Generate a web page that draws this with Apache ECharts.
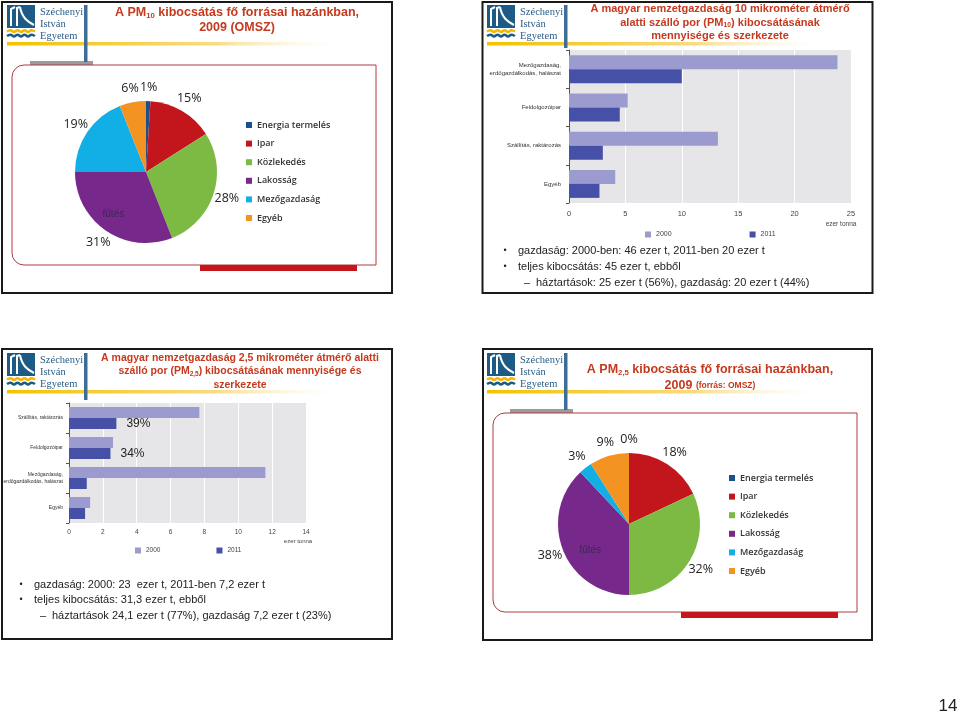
<!DOCTYPE html>
<html><head><meta charset="utf-8">
<script src="https://cdn.jsdelivr.net/npm/echarts@6/dist/echarts.min.js"></script>
<style>html,body{margin:0;padding:0;background:#fff}#c{width:960px;height:713px}</style>
</head><body><div id="c"></div>
<script>
// ---------- data ----------
const sourceNames = ['Energia termelés','Ipar','Közlekedés','Lakosság','Mezőgazdaság','Egyéb'];
const pm10Shares = [1,15,28,31,19,6];
const pm25Shares = [0,18,32,38,3,9];
const sourceNotes = ['','','','fűtés','',''];

const pm10Cats = ['Mezőgazdaság,\nerdőgazdálkodás, halászat','Feldolgozóipar','Szállítás, raktározás','Egyéb'];
const pm10Y2000 = [23.8,5.2,13.2,4.1];
const pm10Y2011 = [10.0,4.5,3.0,2.7];

const pm25Cats = ['Szállítás, raktározás','Feldolgozóipar','Mezőgazdaság,\nerdőgazdálkodás, halászat','Egyéb'];
const pm25Y2000 = [7.7,2.6,11.6,1.25];
const pm25Y2011 = [2.8,2.45,1.05,0.95];
const pm25Notes = ['39%','34%','',''];

const yearNames = ['2000','2011'];
const pm10Axis = {min:0,max:25,interval:5};
const pm25Axis = {min:0,max:14,interval:2};
const unitLabel = 'ezer tonna';

const pm10Bullets = ['gazdaság: 2000-ben: 46 ezer t, 2011-ben 20 ezer t','teljes kibocsátás: 45 ezer t, ebből'];
const pm10Sub = 'háztartások: 25 ezer t (56%), gazdaság: 20 ezer t (44%)';
const pm25Bullets = ['gazdaság: 2000: 23  ezer t, 2011-ben 7,2 ezer t','teljes kibocsátás: 31,3 ezer t, ebből'];
const pm25Sub = 'háztartások 24,1 ezer t (77%), gazdaság 7,2 ezer t (23%)';
const pageNumber = '14';

// ---------- styles ----------
const sectorColors = ['#1F4E8C','#C3161C','#7DBA43','#76298A','#12AEE6','#F39422'];
const c2000 = '#9B9BD0', c2011 = '#4650A6';
const red = '#C53A1E';
const SANS = '"Liberation Sans", Arial, sans-serif';
const NARROW = '"Liberation Sans Narrow", "Liberation Sans", Arial, sans-serif';
const HUMAN = '"Open Sans", "Noto Sans", sans-serif';

const chart = echarts.init(document.getElementById('c'));

function header(ox, oy, barLen, withGray) {
  const g = [];
  g.push({type:'rect', shape:{x:ox+7,y:oy+5,width:28,height:23}, style:{fill:'#1D5B86'}});
  g.push({type:'polyline', shape:{points:[[ox+11,oy+26],[ox+11,oy+9],[ox+15,oy+7]]}, style:{stroke:'#fff',lineWidth:2,fill:null}});
  g.push({type:'polyline', shape:{points:[[ox+17,oy+26],[ox+17,oy+8],[ox+20,oy+7]]}, style:{stroke:'#fff',lineWidth:2,fill:null}});
  g.push({type:'bezierCurve', shape:{x1:ox+20,y1:oy+7,cpx1:ox+22,cpy1:oy+18,cpx2:ox+28,cpy2:oy+22,x2:ox+34,y2:oy+25}, style:{stroke:'#fff',lineWidth:2,fill:null}});
  const wave = (dy, col) => ({type:'polyline', shape:{smooth:0.4, points:[[ox+7,oy+dy],[ox+10.5,oy+dy-1.3],[ox+14,oy+dy+0.5],[ox+17.5,oy+dy-1.3],[ox+21,oy+dy+0.5],[ox+24.5,oy+dy-1.3],[ox+28,oy+dy+0.5],[ox+31.5,oy+dy-1.3],[ox+35,oy+dy]]}, style:{stroke:col,lineWidth:2.6,fill:null}});
  g.push(wave(31.5,'#F2B705'));
  g.push(wave(36,'#1D5B86'));
  ['Széchenyi','István','Egyetem'].forEach((t,i)=>g.push({type:'text', style:{text:t, x:ox+40, y:oy+12+i*12, fill:'#2B5B86', fontSize:10.5, fontFamily:'"Liberation Serif", "DejaVu Serif", serif', verticalAlign:'middle'}}));
  g.push({type:'rect', shape:{x:ox+7,y:oy+42,width:345,height:3.5}, style:{fill:{type:'linear',x:0,y:0,x2:1,y2:0,colorStops:[{offset:0,color:'#F3C200'},{offset:0.6,color:'#F8DB80'},{offset:1,color:'rgba(255,255,255,0)'}]}}});
  g.push({type:'rect', z:5, shape:{x:ox+84,y:oy+5,width:3.5,height:barLen}, style:{fill:'#3D6E9A'}});
  if (withGray) g.push({type:'rect', shape:{x:ox+30,y:oy+61,width:63,height:4}, style:{fill:'#9B9B9B'}});
  return g;
}
function titleLines(cx, ys, lines, size) {
  return lines.map((t,i)=>({type:'text', z:6, style:{text:t, x:cx, y:ys[i], fill:red, fontSize:size, fontWeight:'bold', fontFamily:SANS, align:'center', verticalAlign:'middle',
    rich:{s:{fontSize:size*0.62, fontWeight:'bold', fill:red, fontFamily:SANS, verticalAlign:'bottom', padding:[size*0.45,0,0,0]}, m:{fontSize:size*0.68, fontWeight:'bold', fill:red, fontFamily:SANS}}}}));
}
function panelBorder(x,y,w,h){ return {type:'rect', z:10, shape:{x:x,y:y,width:w,height:h}, style:{fill:null, stroke:'#1a1a1a', lineWidth:2}}; }
function pieFrame(x,y,w,h,redX,redW){
  return [
    {type:'rect', shape:{x:x,y:y,width:w,height:h,r:[12,0,0,12]}, style:{fill:null, stroke:'#B2383F', lineWidth:1}},
    {type:'rect', shape:{x:redX,y:y+h,width:redW,height:6}, style:{fill:'#C4161C'}}
  ];
}
function bullets(x, ys, lines, sub) {
  const g = [];
  lines.forEach((t,i)=>{
    g.push({type:'text', style:{text:'•', x:x, y:ys[i], fill:'#222', fontSize:9, fontFamily:SANS, verticalAlign:'middle', align:'center'}});
    g.push({type:'text', style:{text:t, x:x+13, y:ys[i], fill:'#222', fontSize:11, fontFamily:SANS, verticalAlign:'middle'}});
  });
  g.push({type:'text', style:{text:'–', x:x+19, y:ys[2], fill:'#222', fontSize:11, fontFamily:SANS, verticalAlign:'middle'}});
  g.push({type:'text', style:{text:sub, x:x+31, y:ys[2], fill:'#222', fontSize:11, fontFamily:SANS, verticalAlign:'middle'}});
  return g;
}

let graphics = [];
graphics.push(panelBorder(2,2,390,291), panelBorder(482.5,2,390,291), panelBorder(2,349,390,290), panelBorder(483,349,389,291));
graphics = graphics.concat(header(0,0,57,true), header(480,0,43,false), header(0,348,47,false), header(480,348,57,true));
graphics = graphics.concat(titleLines(237,[13,28],['A PM{s|10} kibocsátás fő forrásai hazánkban,','2009 (OMSZ)'],12.5));
graphics = graphics.concat(titleLines(720,[9,22.5,36],['A magyar nemzetgazdaság 10 mikrométer átmérő','alatti szálló por (PM{s|10}) kibocsátásának','mennyisége és szerkezete'],11));
graphics = graphics.concat(titleLines(240,[358,371.5,385],['A magyar nemzetgazdaság 2,5 mikrométer átmérő alatti','szálló por (PM{s|2,5}) kibocsátásának mennyisége és','szerkezete'],10.5));
graphics = graphics.concat(titleLines(710,[370,386],['A PM{s|2,5} kibocsátás fő forrásai hazánkban,','2009 {m|(forrás: OMSZ)}'],12.5));
graphics = graphics.concat(pieFrame(12,65,364,200,200,157), pieFrame(493,413,364,199,681,157));
graphics = graphics.concat(bullets(505,[251,267,283],pm10Bullets,pm10Sub), bullets(21,[585,600,616],pm25Bullets,pm25Sub));
graphics.push({type:'text', style:{text:unitLabel, x:841, y:224, fill:'#444', fontSize:6.5, fontFamily:NARROW, align:'center', verticalAlign:'middle'}});
graphics.push({type:'text', style:{text:unitLabel, x:298, y:541, fill:'#444', fontSize:6, fontFamily:NARROW, align:'center', verticalAlign:'middle'}});
graphics.push({type:'text', style:{text:pageNumber, x:948, y:706, fill:'#222', fontSize:17, fontFamily:SANS, align:'center', verticalAlign:'middle'}});

function pieSeries(center, shares, noteOffset, labelRadius) {
  const main = {
    type:'pie', center:center, radius:71, startAngle:90, clockwise:true, animation:false,
    labelLine:{show:false}, emphasis:{scale:false},
    data: sourceNames.map((n,i)=>({name:n, value:shares[i], itemStyle:{color:sectorColors[i]},
      label: sourceNotes[i] ? {show:true, position:'inside', formatter:sourceNotes[i], color:'#3D2A52', fontSize:10, fontFamily:SANS, offset:noteOffset} : {show:false}}))
  };
  const labels = {
    type:'pie', center:center, radius:labelRadius, startAngle:90, clockwise:true, animation:false, silent:true,
    legendHoverLink:false, emphasis:{disabled:true},
    itemStyle:{color:'rgba(0,0,0,0)'},
    label:{show:true, position:'inside', formatter:'{c}%', color:'#222', fontSize:12.5, fontFamily:HUMAN},
    labelLine:{show:false},
    data: sourceNames.map((n,i)=>({name:n, value:shares[i]}))
  };
  return [main, labels];
}

const catAxisCommon = {
  type:'category', inverse:true,
  axisLine:{show:true, lineStyle:{color:'#555', width:1}},
  axisTick:{show:true, length:3, lineStyle:{color:'#555'}},
  splitLine:{show:false}
};
const valAxisCommon = {
  type:'value', axisLine:{show:false}, axisTick:{show:false},
  splitLine:{show:true, lineStyle:{color:'#fff', width:1}},
};

const option = {
  animation:false,
  backgroundColor:'#fff',
  grid:[
    {left:569, top:50, width:282, height:153, show:true, backgroundColor:'#E6E6E8', borderWidth:0, containLabel:false, outerBoundsMode:'none'},
    {left:69, top:403, width:237, height:120, show:true, backgroundColor:'#E6E6E8', borderWidth:0, containLabel:false, outerBoundsMode:'none'}
  ],
  xAxis:[
    Object.assign({}, valAxisCommon, {gridIndex:0, min:pm10Axis.min, max:pm10Axis.max, interval:pm10Axis.interval,
      axisLabel:{fontSize:7.5, color:'#444', fontFamily:NARROW, margin:7}}),
    Object.assign({}, valAxisCommon, {gridIndex:1, min:pm25Axis.min, max:pm25Axis.max, interval:pm25Axis.interval,
      axisLabel:{fontSize:6.5, color:'#444', fontFamily:NARROW, margin:6}})
  ],
  yAxis:[
    Object.assign({}, catAxisCommon, {gridIndex:0, data:pm10Cats,
      axisLabel:{fontSize:6, color:'#333', fontFamily:NARROW, margin:8, lineHeight:8.5}}),
    Object.assign({}, catAxisCommon, {gridIndex:1, data:pm25Cats,
      axisLabel:{fontSize:5, color:'#333', fontFamily:NARROW, margin:6, lineHeight:7}})
  ],
  legend:[
    {orient:'vertical', left:246, top:119, padding:0, itemWidth:6, itemHeight:6, itemGap:6.6, icon:'rect',
      data:sourceNames, selectedMode:false, textStyle:{fontSize:9, fontWeight:600, color:'#333', fontFamily:HUMAN, lineHeight:12}},
    {orient:'vertical', left:729, top:472, padding:0, itemWidth:6, itemHeight:6, itemGap:6.6, icon:'rect',
      data:sourceNames, selectedMode:false, textStyle:{fontSize:9, fontWeight:600, color:'#333', fontFamily:HUMAN, lineHeight:12}},
    {orient:'horizontal', left:645, top:231, padding:0, itemWidth:6, itemHeight:6, itemGap:78, icon:'rect',
      data:yearNames, selectedMode:false, textStyle:{fontSize:7, color:'#444', fontFamily:NARROW}},
    {orient:'horizontal', left:135, top:547, padding:0, itemWidth:6, itemHeight:6, itemGap:56, icon:'rect',
      data:yearNames, selectedMode:false, textStyle:{fontSize:6.5, color:'#444', fontFamily:NARROW}}
  ],
  series:[
    ...pieSeries([146,172], pm10Shares, [-11,10], [70,94]),
    ...pieSeries([629,524], pm25Shares, [-3,12], [70,94]),
    {type:'bar', name:yearNames[0], xAxisIndex:0, yAxisIndex:0, data:pm10Y2000, barWidth:14, barGap:'0%', itemStyle:{color:c2000}},
    {type:'bar', name:yearNames[1], xAxisIndex:0, yAxisIndex:0, data:pm10Y2011, barWidth:14, barGap:'0%', itemStyle:{color:c2011}},
    {type:'bar', name:yearNames[0], xAxisIndex:1, yAxisIndex:1, data:pm25Y2000, barWidth:11, barGap:'0%', itemStyle:{color:c2000}},
    {type:'bar', name:yearNames[1], xAxisIndex:1, yAxisIndex:1, barWidth:11, barGap:'0%', itemStyle:{color:c2011},
      data: pm25Y2011.map((v,i)=>({value:v, label: pm25Notes[i] ? {show:true, position:'right', distance:10, formatter:pm25Notes[i], color:'#222', fontSize:12, fontFamily:SANS} : {show:false}}))}
  ],
  graphic:{elements:graphics}
};
chart.setOption(option);
</script></body></html>
